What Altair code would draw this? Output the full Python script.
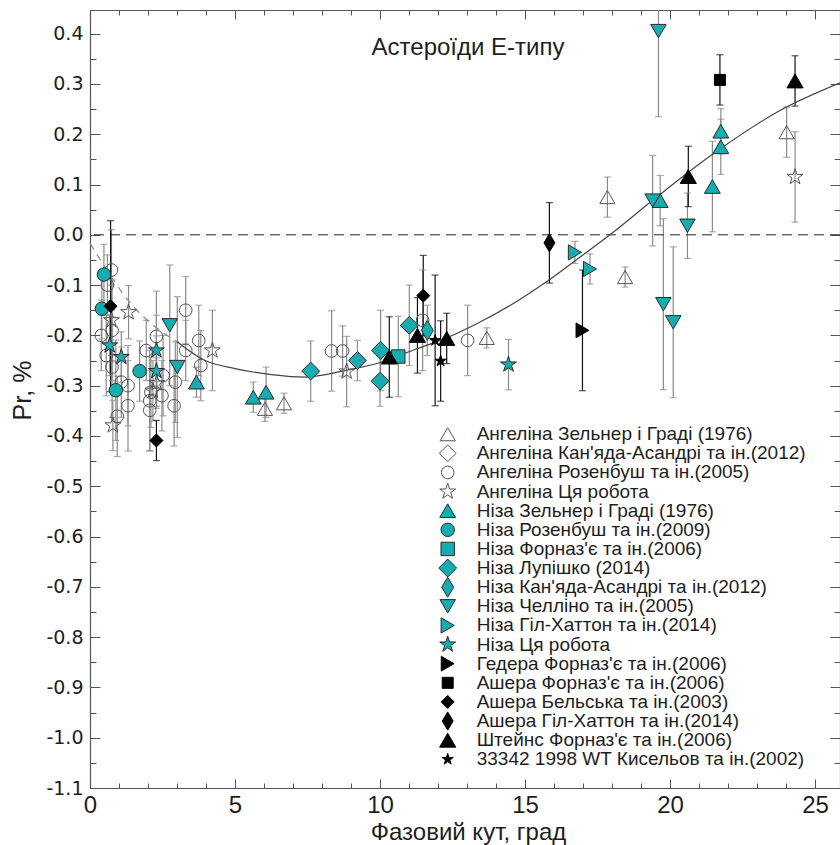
import altair as alt
import pandas as pd

# ---------------- data ----------------
names = [
    "Ангеліна Зельнер і Граді (1976)",
    "Ангеліна Кан'яда-Асандрі та ін.(2012)",
    "Ангеліна Розенбуш та ін.(2005)",
    "Ангеліна Ця робота",
    "Ніза Зельнер і Граді (1976)",
    "Ніза Розенбуш та ін.(2009)",
    "Ніза Форназ'є та ін.(2006)",
    "Ніза Лупішко (2014)",
    "Ніза Кан'яда-Асандрі та ін.(2012)",
    "Ніза Челліно та ін.(2005)",
    "Ніза Гіл-Хаттон та ін.(2014)",
    "Ніза Ця робота",
    "Гедера Форназ'є та ін.(2006)",
    "Ашера Форназ'є та ін.(2006)",
    "Ашера Бельська та ін.(2003)",
    "Ашера Гіл-Хаттон та ін.(2014)",
    "Штейнс Форназ'є та ін.(2006)",
    "33342 1998 WT Кисельов та ін.(2002)",
]

s01_x = [6.03, 6.69, 13.68, 17.84, 18.45, 24.02]
s01_y = [-0.346, -0.335, -0.205, 0.075, -0.084, 0.204]
s01_e = [0.025, 0.02, 0.02, 0.04, 0.02, 0.05]

s02_x = []
s02_y = []
s02_e = []

s03_x = [0.39, 0.56, 0.60, 0.74, 0.76, 0.76, 0.94, 1.08, 1.31, 1.31, 1.94, 2.06, 2.06, 2.10,
         2.29, 2.48, 2.52, 2.90, 2.94, 3.30, 3.30, 3.75, 3.82, 8.33, 8.71, 11.47, 13.02]
s03_y = [-0.20, -0.24, -0.10, -0.07, -0.19, -0.263, -0.361, -0.293, -0.30, -0.34, -0.23, -0.33,
         -0.349, -0.313, -0.202, -0.32, -0.28, -0.34, -0.293, -0.150, -0.23, -0.21, -0.26,
         -0.231, -0.231, -0.17, -0.21]
s03_e = [0.07, 0.08, 0.06, 0.08, 0.10, 0.10, 0.08, 0.07, 0.08, 0.09, 0.06, 0.10, 0.08, 0.07,
         0.09, 0.07, 0.08, 0.08, 0.08, 0.067, 0.06, 0.07, 0.07, 0.08, 0.05, 0.10, 0.07]

s04_x = [0.74, 0.79, 1.33, 2.17, 2.30, 4.22, 8.85, 24.31]
s04_y = [-0.17, -0.379, -0.154, -0.31, -0.295, -0.23, -0.272, 0.115]
s04_e = [0.07, 0.05, 0.053, 0.06, 0.05, 0.08, 0.07, 0.09]

s05_x = [3.67, 5.63, 6.07, 19.66, 21.46, 21.75, 21.75]
s05_y = [-0.293, -0.323, -0.313, 0.068, 0.096, 0.206, 0.175]
s05_e = [0.03, 0.03, 0.05, 0.05, 0.09, 0.045, 0.055]

s06_x = [0.48, 0.41, 1.71, 0.89]
s06_y = [-0.079, -0.147, -0.271, -0.309]
s06_e = [0.06, 0.06, 0.06, 0.10]

s07_x = [10.63]
s07_y = [-0.242]
s07_e = [0.08]

s08_x = [7.61, 9.22, 10.02, 10.00, 11.01]
s08_y = [-0.271, -0.25, -0.23, -0.291, -0.18]
s08_e = [0.06, 0.04, 0.08, 0.05, 0.08]

s09_x = [11.63]
s09_y = [-0.19]
s09_e = [0.05]

s10_x = [2.75, 3.01, 19.40, 19.60, 19.77, 20.11, 20.60]
s10_y = [-0.18, -0.263, 0.068, 0.405, -0.138, -0.174, 0.018]
s10_e = [0.12, 0.14, 0.09, 0.17, 0.17, 0.15, 0.065]

s11_x = [16.72, 17.24]
s11_y = [-0.035, -0.068]
s11_e = [0.022, 0.03]

s12_x = [0.68, 1.08, 2.29, 2.29, 14.43]
s12_y = [-0.22, -0.243, -0.23, -0.271, -0.258]
s12_e = [0.06, 0.05, 0.07, 0.07, 0.05]

s13_x = [16.98]
s13_y = [-0.19]
s13_e = [0.12]

s14_x = [21.72]
s14_y = [0.308]
s14_e = [0.05]

s15_x = [0.71, 2.29, 11.49]
s15_y = [-0.142, -0.409, -0.121]
s15_e = [0.17, 0.04, 0.08]

s16_x = [15.84]
s16_y = [-0.016]
s16_e = [0.08]

s17_x = [10.32, 11.29, 12.30, 20.63, 24.31]
s17_y = [-0.243, -0.20, -0.206, 0.116, 0.306]
s17_e = [0.08, 0.075, 0.05, 0.06, 0.05]

s18_x = [11.90, 12.09]
s18_y = [-0.21, -0.251]
s18_e = [0.13, 0.08]

# fitted curve (solid part and dashed extrapolation)
fit_x = [2.99, 3.97, 5.0, 6.26, 7.41, 8.79, 10.0, 11.2, 12.3, 13.4, 14.5, 15.7, 16.9,
         17.93, 19.54, 21.49, 23.79, 25.86]
fit_y = [-0.212, -0.25, -0.266, -0.278, -0.283, -0.27, -0.254, -0.228, -0.205, -0.175,
         -0.14, -0.095, -0.044, 0.0, 0.075, 0.161, 0.247, 0.302]
ext_x = [0.0, 0.80, 1.21, 1.90, 2.53, 2.99]
ext_y = [-0.017, -0.089, -0.123, -0.166, -0.195, -0.212]

zero_line = [0.0]

x_major = [0, 5, 10, 15, 20, 25]
x_minor = [1, 2, 3, 4, 6, 7, 8, 9, 11, 12, 13, 14, 16, 17, 18, 19, 21, 22, 23, 24]
y_major = [-1.1, -1.0, -0.9, -0.8, -0.7, -0.6, -0.5, -0.4, -0.3, -0.2, -0.1, 0.0, 0.1, 0.2, 0.3, 0.4]
y_minor = [-1.05, -0.95, -0.85, -0.75, -0.65, -0.55, -0.45, -0.35, -0.25, -0.15, -0.05,
           0.05, 0.15, 0.25, 0.35]

title_text = "Астероїди Е-типу"
x_title = "Фазовий кут, град"
y_title = "Pr, %"

# ---------------- styles ----------------
CYAN = "#17adb0"
STAR = ("M0,-1L0.225,-0.309L0.951,-0.309L0.363,0.118L0.588,0.809L0,0.382"
        "L-0.588,0.809L-0.363,0.118L-0.951,-0.309L-0.225,-0.309Z")
THIN = "M0,-1L0.6,0L0,1L-0.6,0Z"
shapes = ["triangle-up", "diamond", "circle", STAR,
          "triangle-up", "circle", "square", "diamond", THIN, "triangle-down",
          "triangle-right", STAR,
          "triangle-right", "square", "diamond", THIN, "triangle-up", STAR]
fills = ["transparent"] * 4 + [CYAN] * 8 + ["#000000"] * 6
strokes = ["#555555"] * 4 + ["#2a2a2a"] * 8 + ["#000000"] * 6
sizes = [230, 280, 160, 280, 250, 180, 180, 320, 400, 240, 230, 280,
         220, 121, 170, 330, 260, 140]
barcols = ["#8a8a8a"] * 12 + ["#111111"] * 6

all_x = [s01_x, s02_x, s03_x, s04_x, s05_x, s06_x, s07_x, s08_x, s09_x,
         s10_x, s11_x, s12_x, s13_x, s14_x, s15_x, s16_x, s17_x, s18_x]
all_y = [s01_y, s02_y, s03_y, s04_y, s05_y, s06_y, s07_y, s08_y, s09_y,
         s10_y, s11_y, s12_y, s13_y, s14_y, s15_y, s16_y, s17_y, s18_y]
all_e = [s01_e, s02_e, s03_e, s04_e, s05_e, s06_e, s07_e, s08_e, s09_e,
         s10_e, s11_e, s12_e, s13_e, s14_e, s15_e, s16_e, s17_e, s18_e]

rows = []
for i, name in enumerate(names):
    for xv, yv, ev in zip(all_x[i], all_y[i], all_e[i]):
        rows.append({"series": name, "x": xv, "y": yv, "lo": yv - ev, "hi": yv + ev,
                     "barcol": barcols[i]})
df = pd.DataFrame(rows)
leg_df = pd.DataFrame({"series": names, "row": list(range(len(names)))})

W, H = 750, 778
xs = alt.Scale(domain=[0, 25.86], nice=False, zero=False)
ys = alt.Scale(domain=[-1.1, 0.447], nice=False, zero=False)
row_scale = alt.Scale(domain=[0, len(names) - 1], range=[424.2, 749.3], nice=False, zero=False)
AX = "#555555"
TXT = "#1e1e1e"

shape_scale = alt.Scale(domain=names, range=shapes)
fill_scale = alt.Scale(domain=names, range=fills)
stroke_scale = alt.Scale(domain=names, range=strokes)
size_scale = alt.Scale(type="ordinal", domain=names, range=sizes)

x_label_axis = alt.Axis(
    orient="bottom", values=x_major, format="d", ticks=False, tickSize=0, labelPadding=5,
    labelFont="Liberation Sans", labelFontSize=24, labelColor=TXT, labelFlush=False,
    labelOverlap=False, domain=True, domainColor=AX, domainWidth=1.2, grid=False,
    title=x_title, titleFont="Liberation Sans", titleFontSize=24, titleFontWeight="normal",
    titleColor=TXT, titleX=378, titleY=44, titleAlign="center", titleBaseline="middle")
y_label_axis = alt.Axis(
    orient="left", values=y_major, labelExpr="replace(format(datum.value, '.1f'), '\u2212', '-')",
    ticks=False, tickSize=0, labelPadding=7, labelFont="DejaVu Sans", labelFontSize=19,
    labelColor=TXT, labelFlush=False, labelOverlap=False, domain=True, domainColor=AX,
    domainWidth=1.2, grid=False, title=y_title, titleFont="Liberation Sans", titleFontSize=25,
    titleFontWeight="normal", titleColor=TXT, titleAngle=270, titleX=-68, titleY=380,
    titleAlign="center", titleBaseline="middle")


def tick_axis(orient, offset, values, size, domain=False):
    return alt.Axis(orient=orient, offset=offset, values=values, ticks=True, tickSize=size,
                    tickColor=AX, tickWidth=1, labels=False, domain=domain, domainColor=AX,
                    domainWidth=1.2, grid=False, title=None)


dummy = pd.DataFrame({"x": [0.0], "y": [0.0]})


def helper(xaxis=None, yaxis=None):
    return alt.Chart(dummy).mark_point(opacity=0).encode(
        x=alt.X("x:Q", scale=xs, axis=xaxis),
        y=alt.Y("y:Q", scale=ys, axis=yaxis))


helpers = [
    helper(xaxis=tick_axis("top", -H, x_major, 9)),
    helper(xaxis=tick_axis("top", -H, x_minor, 5)),
    helper(xaxis=tick_axis("bottom", -H, x_major, 9, domain=True)),
    helper(xaxis=tick_axis("bottom", -H, x_minor, 5)),
    helper(yaxis=tick_axis("right", -W, y_major, 10)),
    helper(yaxis=tick_axis("right", -W, y_minor, 6)),
    helper(yaxis=tick_axis("left", -W, y_major, 10, domain=True)),
    helper(yaxis=tick_axis("left", -W, y_minor, 6)),
]

zero = alt.Chart(pd.DataFrame({"y": zero_line})).mark_rule(
    strokeDash=[10, 6], color="#222222", strokeWidth=1).encode(
    y=alt.Y("y:Q", scale=ys, axis=None))

fit = alt.Chart(pd.DataFrame({"x": fit_x, "y": fit_y})).mark_line(
    color="#444444", strokeWidth=1.2, interpolate="monotone", clip=True).encode(
    x=alt.X("x:Q", scale=xs, axis=None), y=alt.Y("y:Q", scale=ys, axis=None))
ext = alt.Chart(pd.DataFrame({"x": ext_x, "y": ext_y})).mark_line(
    color="#888888", strokeWidth=1.2, strokeDash=[7, 6], interpolate="monotone").encode(
    x=alt.X("x:Q", scale=xs, axis=None), y=alt.Y("y:Q", scale=ys, axis=None))

bars = alt.Chart(df).mark_rule(strokeWidth=1.2, clip=True).encode(
    x=alt.X("x:Q", scale=xs, axis=x_label_axis),
    y=alt.Y("lo:Q", scale=ys, axis=y_label_axis),
    y2="hi:Q",
    color=alt.Color("barcol:N", scale=None))

caps = alt.Chart(df).transform_fold(["lo", "hi"], as_=["end", "val"]).mark_tick(
    orient="horizontal", size=7, thickness=1.2, clip=True).encode(
    x=alt.X("x:Q", scale=xs, axis=None),
    y=alt.Y("val:Q", scale=ys, axis=None),
    color=alt.Color("barcol:N", scale=None))

pts = alt.Chart(df).mark_point(filled=True, opacity=1, strokeWidth=1).encode(
    x=alt.X("x:Q", scale=xs, axis=None),
    y=alt.Y("y:Q", scale=ys, axis=None),
    shape=alt.Shape("series:N", scale=shape_scale, legend=None),
    fill=alt.Fill("series:N", scale=fill_scale, legend=None),
    stroke=alt.Stroke("series:N", scale=stroke_scale, legend=None),
    size=alt.Size("series:N", scale=size_scale, legend=None))

# legend drawn from the same scales (one row per series)
leg_sym = alt.Chart(leg_df).mark_point(filled=True, opacity=1, strokeWidth=1).encode(
    x=alt.value(357.7),
    y=alt.Y("row:Q", scale=row_scale, axis=None),
    shape=alt.Shape("series:N", scale=shape_scale, legend=None),
    fill=alt.Fill("series:N", scale=fill_scale, legend=None),
    stroke=alt.Stroke("series:N", scale=stroke_scale, legend=None),
    size=alt.Size("series:N", scale=size_scale, legend=None))
leg_txt = alt.Chart(leg_df).mark_text(
    align="left", baseline="middle", font="Liberation Sans", fontSize=19, color=TXT).encode(
    x=alt.value(386.7),
    y=alt.Y("row:Q", scale=row_scale, axis=None),
    text="series:N")

ttl = alt.Chart(pd.DataFrame({"t": [title_text]})).mark_text(
    font="Liberation Sans", fontSize=24, align="center", baseline="middle", color=TXT).encode(
    x=alt.value(378), y=alt.value(38), text="t:N")

chart = alt.layer(bars, caps, zero, ext, fit, pts, leg_sym, leg_txt, ttl, *helpers).resolve_axis(
    x="independent", y="independent").resolve_scale(y="independent").properties(
    width=W, height=H,
    padding={"left": 90, "top": 10, "right": 0, "bottom": 57},
    autosize=alt.AutoSizeParams(type="none"),
).configure_view(stroke=None)

chart.save("out.html", embed_options={"renderer": "svg", "actions": False})
